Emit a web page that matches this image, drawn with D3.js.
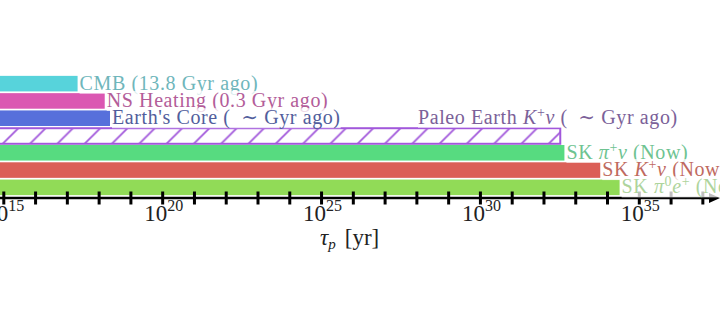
<!DOCTYPE html>
<html>
<head>
<meta charset="utf-8">
<script src="https://cdn.jsdelivr.net/npm/d3@7"></script>
<style>
  body { margin: 0; background: #fff; }
  svg { display: block; }
</style>
</head>
<body>
<div id="chart"></div>
<script>
// proton lifetime bounds, top to bottom
const names = [
  "CMB (13.8 Gyr ago)",
  "NS Heating (0.3 Gyr ago)",
  "Earth's Core ( ∼ Gyr ago)",
  "Paleo Earth <i>K</i><sup>+</sup><i>ν</i> ( ∼ Gyr ago)",
  "SK <i>π</i><sup>+</sup><i>ν</i> (Now)",
  "SK <i>K</i><sup>+</sup><i>ν</i> (Now)",
  "SK <i>π</i><sup>0</sup><i>e</i><sup>+</sup> (Now)"
];
const lifetimes = [2.1e17, 1.5e18, 2.2e18, 3.5e32, 4.4e32, 5.9e33, 2.4e34];  // yr
const hatched = [false, false, false, true, false, false, false];
const tickExponents = d3.range(15, 38);
const labelExponents = [15, 20, 25, 30, 35];

const barColors = ["#57d3db", "#db57b2", "#5770db", "#a157db", "#57db80", "#db5f57", "#91db57"];
const textColors = ["#6fb6bb", "#b35d99", "#525e9c", "#7b6199", "#6ec391", "#bf6a5f", "#aed49c"];

const width = 720, height = 332;
const serif = "'Liberation Serif', 'DejaVu Serif', serif";

const svg = d3.select("#chart").append("svg")
  .attr("width", width)
  .attr("height", height)
  .attr("font-family", serif);

svg.append("rect").attr("width", width).attr("height", height).attr("fill", "white");

const x = d3.scaleLog()
  .domain([1e15, 1e35])
  .range([3.8, 639.3]);

const y = d3.scaleBand()
  .domain(d3.range(names.length))
  .range([75, 196])
  .paddingInner(0.1)
  .paddingOuter(0.05);

const axisY = 198;

// hatch pattern for the paleo bar
const defs = svg.append("defs");
const pat = defs.append("pattern")
  .attr("id", "hatch")
  .attr("patternUnits", "userSpaceOnUse")
  .attr("width", 27.3)
  .attr("height", 27.3)
  .attr("x", 10);
pat.append("rect").attr("width", 27.3).attr("height", 27.3).attr("fill", "white");
pat.append("path")
  .attr("d", "M-3,3 L3,-3 M0,27.3 L27.3,0 M24.3,30.3 L30.3,24.3")
  .attr("stroke", barColors[3])
  .attr("stroke-width", 1.8);

const xStart = x(1e14);

const bars = svg.append("g");
names.forEach((n, i) => {
  if (hatched[i]) {
    bars.append("rect")
      .attr("x", xStart)
      .attr("y", y(i) + 0.5)
      .attr("width", x(lifetimes[i]) - xStart - 1)
      .attr("height", y.bandwidth())
      .attr("fill", "url(#hatch)")
      .attr("stroke", barColors[i])
      .attr("stroke-width", 2);
  } else {
    bars.append("rect")
      .attr("x", xStart)
      .attr("y", y(i))
      .attr("width", x(lifetimes[i]) - xStart)
      .attr("height", y.bandwidth())
      .attr("fill", barColors[i]);
  }
});

// axis with arrow
const axis = svg.append("g");
axis.append("line")
  .attr("x1", 0).attr("x2", 713)
  .attr("y1", axisY).attr("y2", axisY)
  .attr("stroke", "black")
  .attr("stroke-width", 2.4);
axis.append("path")
  .attr("d", `M709,${axisY - 5} L720,${axisY} L709,${axisY + 5} Z`)
  .attr("fill", "black");
axis.selectAll(".tick")
  .data(tickExponents)
  .join("line")
    .attr("class", "tick")
    .attr("x1", d => x(10 ** d)).attr("x2", d => x(10 ** d))
    .attr("y1", axisY - 6.5).attr("y2", axisY + 6.5)
    .attr("stroke", "black")
    .attr("stroke-width", 3);

const tl = axis.selectAll(".tlabel")
  .data(labelExponents)
  .join("text")
    .attr("class", "tlabel")
    .attr("x", d => x(10 ** d) + 1)
    .attr("y", 221)
    .attr("text-anchor", "middle")
    .attr("font-size", 23)
    .attr("fill", "#222");
tl.append("tspan").text("10");
tl.append("tspan").attr("dy", -10).attr("font-size", 16).text(d => d);

// axis title
const title = svg.append("text")
  .attr("x", 320)
  .attr("y", 245)
  .attr("font-size", 23)
  .attr("fill", "#222");
title.append("tspan").attr("font-style", "italic").text("τ");
title.append("tspan").attr("font-style", "italic").attr("font-size", 15).attr("dy", 4).text("p");
title.append("tspan").attr("dy", -4).attr("dx", 9).text("[yr]");

// bar labels
function addRich(sel, str) {
  const parts = str.split(/(<i>.*?<\/i>|<sup>.*?<\/sup>)/).filter(s => s.length);
  let up = 0;
  parts.forEach(p => {
    const t = sel.append("tspan");
    let dy = 0;
    if (p.startsWith("<sup>")) {
      dy = -7 - up; up = -7;
      t.attr("font-size", "0.7em").text(p.slice(5, -6));
    } else {
      dy = -up; up = 0;
      if (p.startsWith("<i>")) t.attr("font-style", "italic").text(p.slice(3, -4));
      else t.text(p.replace(" ∼ ", "\u2002∼ "));
    }
    if (dy) t.attr("dy", dy);
  });
}

const labelPos = names.map((n, i) => {
  if (hatched[i]) return {x: 418, y: y(i) - 4};
  return {x: x(lifetimes[i]) + 2, y: y(i) + y.bandwidth() / 2 + 6};
});

const labels = svg.append("g").attr("font-size", 20).attr("letter-spacing", 0.6);
names.forEach((n, i) => {
  const g = labels.append("g");
  const bg = g.append("rect").attr("fill", "white").attr("fill-opacity", 0.75);
  const t = g.append("text")
    .attr("x", labelPos[i].x)
    .attr("y", labelPos[i].y)
    .attr("fill", textColors[i]);
  addRich(t, n);
  const bb = t.node().getBBox();
  bg.attr("x", bb.x).attr("y", bb.y + 2).attr("width", bb.width).attr("height", bb.height - 3);
});
</script>
</body>
</html>
